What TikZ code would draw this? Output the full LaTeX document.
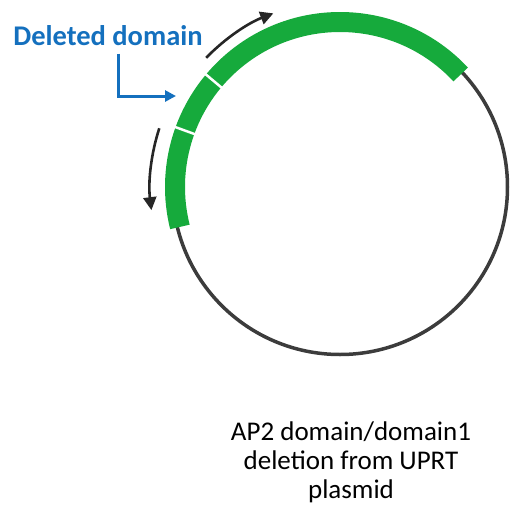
\documentclass[tikz,border=0pt]{standalone}
\usepackage{fontspec}
\setmainfont{Carlito}
\usepackage{tikz}
\usetikzlibrary{positioning,arrows.meta}
\definecolor{plasgreen}{RGB}{22,170,60}
\definecolor{labelblue}{RGB}{20,112,190}
\definecolor{ringgray}{RGB}{60,60,60}

\begin{document}
\begin{tikzpicture}[x=1pt,y=1pt]
    \useasboundingbox (0,0) rectangle (510,-515);
    \tikzset{
      turn/.style={line width=2.6pt, black!85, -{Triangle[length=13pt,width=13pt]}},
      cut/.style={white, line width=2.5pt}
    }
    \coordinate (c) at (340,-187);
    \draw[line width=3.5pt, ringgray] (c) circle (167.5);
    \draw[line width=20pt, plasgreen] ([shift={(43:165)}]c) arc (43:194:165);
    \foreach \a in {140,160}{\draw[cut] ([shift={(\a:152)}]c) -- ([shift={(\a:178)}]c);}
    \draw[turn] ([shift={(136:186)}]c) arc (136:111:186);
    \draw[turn] ([shift={(162:190)}]c) arc (162:187:190);
    \node[font=\fontsize{28.5}{32}\selectfont\bfseries, text=labelblue] (del) at (108,-36) {Deleted domain};
    \coordinate (gap) at (176,-96);
    \draw[labelblue, line width=3pt, -{Triangle[length=11pt,width=11pt]}] ([xshift=10pt,yshift=-4pt]del.south) |- (gap);
    \node[align=center, font=\fontsize{27}{29}\selectfont] (caption) at (351,-462) {AP2 domain/domain1\\deletion from UPRT\\plasmid};
\end{tikzpicture}
\end{document}
